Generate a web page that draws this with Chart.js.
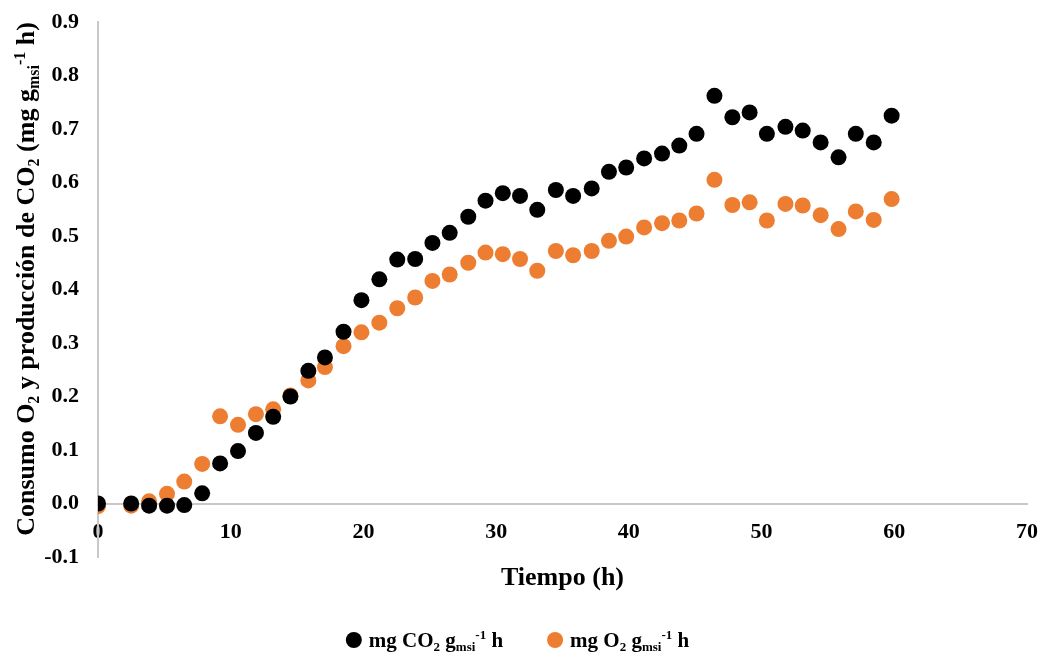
<!DOCTYPE html>
<html>
<head>
<meta charset="utf-8">
<title>Consumo O2 y producción de CO2</title>
<script src="https://cdn.jsdelivr.net/npm/chart.js@4.4.0/dist/chart.umd.min.js"></script>
<style>
    html, body { margin: 0; padding: 0; background: #ffffff; }
    #contenedor { width: 1045px; height: 654px; }
</style>
</head>
<body>
<div id="contenedor"><canvas id="respiracionChart" width="1045" height="654"></canvas></div>
<script>
    // tiempo de muestreo (h)
    const tiempo = [0, 2.5, 3.85, 5.2, 6.5, 7.85, 9.2, 10.55, 11.9, 13.2, 14.5, 15.85, 17.1, 18.5, 19.85,
        21.2, 22.55, 23.9, 25.2, 26.5, 27.9, 29.2, 30.5, 31.8, 33.1, 34.5, 35.8, 37.2, 38.5, 39.8,
        41.15, 42.5, 43.8, 45.1, 46.45, 47.8, 49.1, 50.4, 51.8, 53.1, 54.45, 55.8, 57.1, 58.45, 59.8];

    // mg CO2 gmsi-1 h
    const co2 = [0, 0, -0.004, -0.004, -0.003, 0.019, 0.075, 0.098, 0.132, 0.162, 0.2, 0.248, 0.273, 0.321, 0.380,
        0.419, 0.456, 0.457, 0.487, 0.506, 0.536, 0.566, 0.580, 0.575, 0.549, 0.586, 0.575, 0.589, 0.620, 0.628,
        0.645, 0.654, 0.669, 0.691, 0.762, 0.722, 0.731, 0.691, 0.704, 0.697, 0.675, 0.647, 0.691, 0.675, 0.725];

    // mg O2 gmsi-1 h
    const o2 = [-0.005, -0.004, 0.004, 0.018, 0.041, 0.074, 0.163, 0.147, 0.167, 0.176, 0.202, 0.230, 0.255, 0.294, 0.320,
        0.338, 0.365, 0.385, 0.416, 0.428, 0.450, 0.469, 0.466, 0.457, 0.435, 0.472, 0.464, 0.472, 0.491, 0.499,
        0.516, 0.524, 0.529, 0.542, 0.605, 0.558, 0.563, 0.529, 0.560, 0.557, 0.539, 0.513, 0.546, 0.530, 0.569];

    // marcas de los ejes
    const ticksX = [0, 10, 20, 30, 40, 50, 60, 70];
    const ticksY = [-0.1, 0, 0.1, 0.2, 0.3, 0.4, 0.5, 0.6, 0.7, 0.8, 0.9];

    // textos con subindices / superindices: [texto, modo]
    const tituloY = [['Consumo O', ''], ['2', 'sub'], [' y producción de CO', ''], ['2', 'sub'],
        [' (mg g', ''], ['msi', 'sub'], ['-1', 'sup'], [' h)', '']];
    const leyendaCO2 = [['mg CO', ''], ['2', 'sub'], [' g', ''], ['msi', 'sub'], ['-1', 'sup'], [' h', '']];
    const leyendaO2 = [['mg O', ''], ['2', 'sub'], [' g', ''], ['msi', 'sub'], ['-1', 'sup'], [' h', '']];

    const colores = ['#000000', '#ED7D31'];
    const fuente = '"Liberation Serif", "Times New Roman", serif';

    function puntos(xs, ys) {
        return xs.map((x, i) => ({ x: x, y: ys[i] }));
    }

    // dibuja un texto con partes en subindice o superindice, devuelve el ancho
    function textoRico(ctx, partes, size, x, y, centrado) {
        const fonts = partes.map(p => 'bold ' + (p[1] ? Math.round(size * 0.62) : size) + 'px ' + fuente);
        let ancho = 0;
        partes.forEach((p, i) => { ctx.font = fonts[i]; ancho += ctx.measureText(p[0]).width; });
        let cx = centrado ? x - ancho / 2 : x;
        partes.forEach((p, i) => {
            ctx.font = fonts[i];
            const dy = p[1] === 'sub' ? size * 0.18 : (p[1] === 'sup' ? -size * 0.36 : 0);
            ctx.fillText(p[0], cx, y + dy);
            cx += ctx.measureText(p[0]).width;
        });
        return ancho;
    }

    function anchoRico(ctx, partes, size) {
        let ancho = 0;
        partes.forEach(p => {
            ctx.font = 'bold ' + (p[1] ? Math.round(size * 0.62) : size) + 'px ' + fuente;
            ancho += ctx.measureText(p[0]).width;
        });
        return ancho;
    }

    // titulo del eje Y y leyenda inferior
    const textosExtra = {
        id: 'textosExtra',
        afterDraw(chart) {
            const ctx = chart.ctx;
            ctx.save();
            ctx.fillStyle = '#000000';
            ctx.textBaseline = 'alphabetic';
            ctx.textAlign = 'left';

            // titulo vertical
            ctx.save();
            ctx.translate(34, 279);
            ctx.rotate(-Math.PI / 2);
            textoRico(ctx, tituloY, 26, 0, 0, true);
            ctx.restore();

            // leyenda
            const size = 21, radio = 8, hueco = 7, sep = 44;
            const w1 = anchoRico(ctx, leyendaCO2, size);
            const w2 = anchoRico(ctx, leyendaO2, size);
            const total = (radio * 2 + hueco + w1) + sep + (radio * 2 + hueco + w2);
            let x = chart.width / 2 - total / 2 - 5;
            const yc = 640;
            [[leyendaCO2, w1, colores[0]], [leyendaO2, w2, colores[1]]].forEach(item => {
                ctx.fillStyle = item[2];
                ctx.beginPath();
                ctx.arc(x + radio, yc, radio, 0, Math.PI * 2);
                ctx.fill();
                ctx.fillStyle = '#000000';
                textoRico(ctx, item[0], size, x + radio * 2 + hueco, yc + 7, false);
                x += radio * 2 + hueco + item[1] + sep;
            });
            ctx.restore();
        }
    };

    const ctx = document.getElementById('respiracionChart').getContext('2d');

    // las marcas no se dibujan (grid oculto) pero su largo separa las etiquetas del eje
    const respiracionChart = new Chart(ctx, {
        type: 'scatter',
        data: {
            datasets: [{
                label: 'mg CO2 gmsi-1 h',
                data: puntos(tiempo, co2),
                backgroundColor: colores[0],
                borderColor: colores[0],
                pointRadius: 8,
                pointHoverRadius: 8,
                pointBorderWidth: 0
            }, {
                label: 'mg O2 gmsi-1 h',
                data: puntos(tiempo, o2),
                backgroundColor: colores[1],
                borderColor: colores[1],
                pointRadius: 8,
                pointHoverRadius: 8,
                pointBorderWidth: 0
            }]
        },
        options: {
            responsive: false,
            animation: false,
            layout: {
                padding: { top: 22, right: 18, bottom: 97, left: 0 }
            },
            plugins: {
                legend: { display: false },
                tooltip: { enabled: false }
            },
            scales: {
                x: {
                    type: 'linear',
                    position: { y: 0 },
                    min: 0,
                    max: 70,
                    afterBuildTicks: (scale) => { scale.ticks = ticksX.map(v => ({ value: v })); },
                    grid: { display: false, drawTicks: true, tickLength: 13 },
                    border: { display: true, color: '#c8c8c8', width: 2 },
                    ticks: {
                        color: '#000000',
                        padding: 3,
                        maxRotation: 0,
                        font: { family: fuente, size: 22, weight: 'bold' },
                        callback: (v) => String(v)
                    },
                    title: {
                        display: true,
                        text: 'Tiempo (h)',
                        color: '#000000',
                        padding: { top: 14, bottom: 0 },
                        font: { family: fuente, size: 26, weight: 'bold' }
                    }
                },
                y: {
                    type: 'linear',
                    min: -0.1,
                    max: 0.9,
                    afterFit: (scale) => { scale.width = 98; },
                    afterBuildTicks: (scale) => { scale.ticks = ticksY.map(v => ({ value: v })); },
                    grid: { display: false, drawTicks: true, tickLength: 16 },
                    border: { display: true, color: '#c8c8c8', width: 2 },
                    ticks: {
                        color: '#000000',
                        padding: 3,
                        font: { family: fuente, size: 22, weight: 'bold' },
                        callback: (v) => Math.abs(v) < 1e-9 ? '0.0' : Number(v).toFixed(1)
                    }
                }
            }
        },
        plugins: [textosExtra]
    });
</script>
</body>
</html>
